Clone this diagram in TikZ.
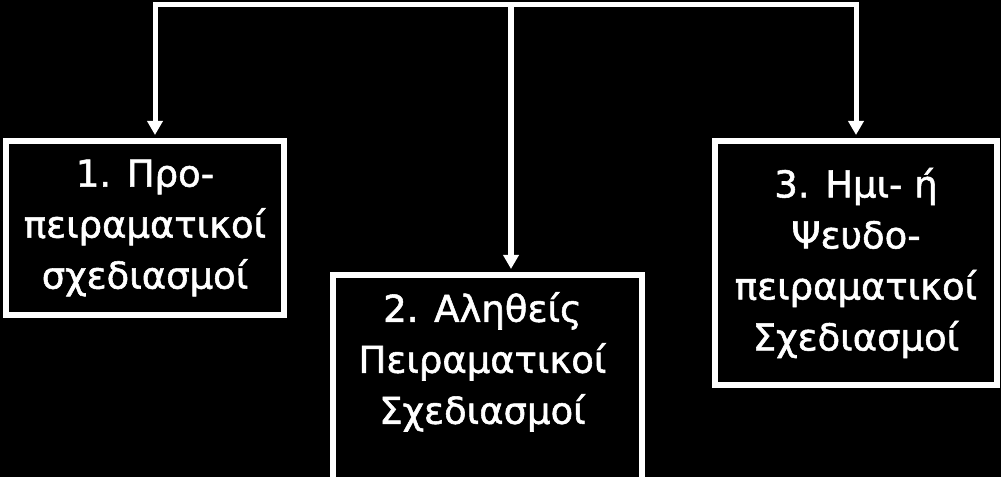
\documentclass[tikz,border=0pt]{standalone}
\usepackage{fontspec}
\setmainfont{DejaVu Sans}
\newfontfamily\diagfont{DejaVu Sans}[FakeBold=1.5]
\usetikzlibrary{arrows.meta,positioning}
\tikzset{
  box/.style={draw=white, line width=6pt, align=center, text=white,
              font=\diagfont\fontsize{37}{51}\selectfont, inner sep=0pt},
  lbl/.style={text=white, align=center, font=\diagfont\fontsize{37}{51}\selectfont, inner sep=0pt},
  arr/.style={draw=white, line width=5pt, -{Triangle[length=14pt,width=15pt]}}
}
\begin{document}
\begin{tikzpicture}[x=1pt,y=1pt]
\fill[black] (0,0) rectangle (1001,477);
\useasboundingbox (0,0) rectangle (1001,477);
\node[box, minimum width=278pt, minimum height=174pt] (b1) at (145,249) {1. Προ-\\πειραματικοί\\σχεδιασμοί};
\node[box, minimum width=309pt, minimum height=300pt, anchor=north] (b2) at (487.5,205) {};
\node[lbl, below=20pt of b2.north, xshift=-5pt] (l2) {2. Αληθείς\\Πειραματικοί\\Σχεδιασμοί};
\node[box, minimum width=282pt, minimum height=244pt] (b3) at (856,214) {3. Ημι- ή\\Ψευδο-\\πειραματικοί\\Σχεδιασμοί};
\coordinate (hub) at (511,472);
\draw[arr] (hub) -| ([xshift=10pt,yshift=3pt]b1.north);
\draw[arr] (hub) -| ([yshift=3pt]b3.north);
\draw[arr, line width=6pt] (hub) -- ([yshift=3pt]hub |- b2.north);
\end{tikzpicture}
\end{document}
